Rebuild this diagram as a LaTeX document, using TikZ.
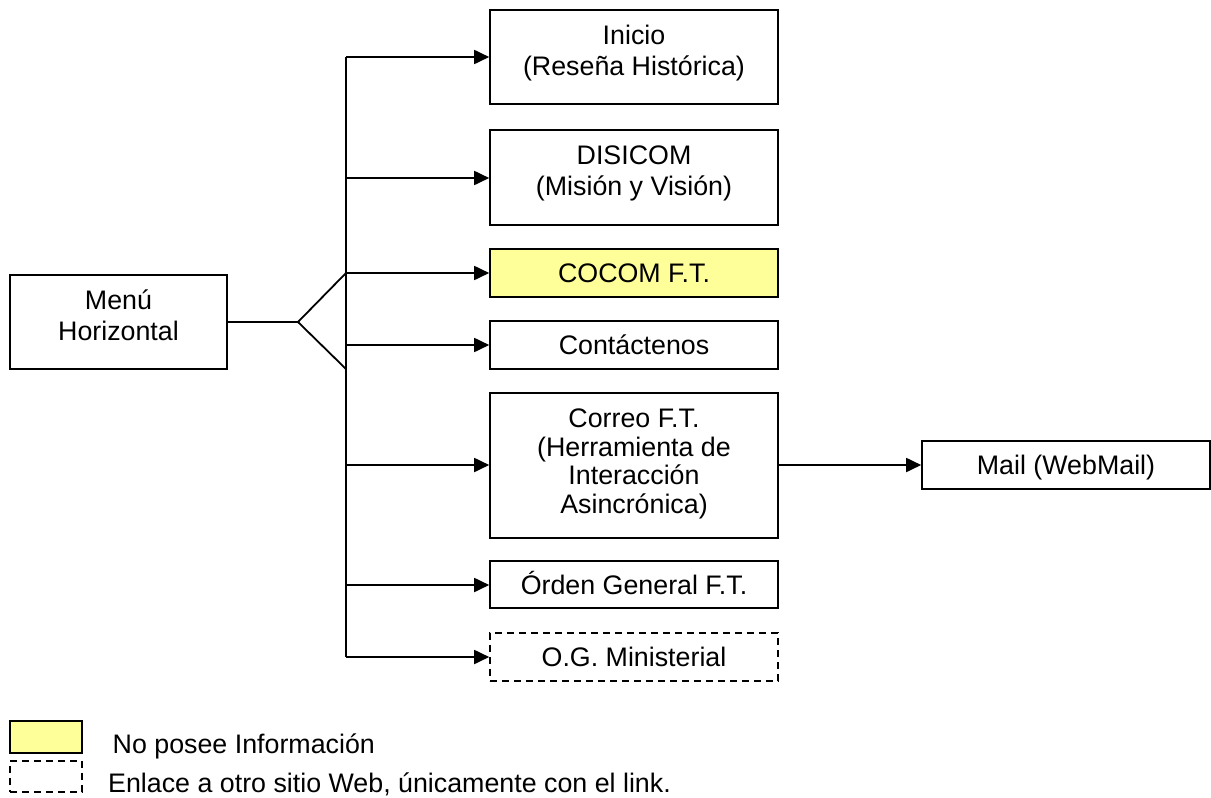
\documentclass[tikz,border=0pt]{standalone}
\usepackage{fontspec}
\setmainfont{Liberation Sans}
\usetikzlibrary{arrows.meta}
\definecolor{noinfo}{RGB}{255,255,153}
\tikzset{
  box/.style={draw, line width=1.6pt, inner sep=0pt, align=center,
    font=\fontsize{26.8}{31}\selectfont, text height=19.3pt, text depth=0pt},
  twoline/.style={text height=50.3pt, text depth=14pt},
  dashbox/.style={dash pattern=on 7pt off 5pt},
  conn/.style={line width=1.8pt},
  arr/.style={conn, -{Triangle[length=15pt,width=14pt]}},
  lbl/.style={anchor=base west, inner sep=0pt, font=\fontsize{26.8}{31}\selectfont}
}
\begin{document}
\begin{tikzpicture}[x=1pt,y=-1pt]
\useasboundingbox (0,0) rectangle (1211,798);
% boxes
\node[box, twoline, minimum width=217pt, minimum height=94pt] (menu) at (118.5,322) {Menú\\Horizontal};
\node[box, twoline, minimum width=288pt, minimum height=94pt] (inicio) at (634,57) {Inicio\\(Reseña Histórica)};
\node[box, twoline, minimum width=288pt, minimum height=95pt] (disicom) at (634,177.5) {DISICOM\\(Misión y Visión)};
\node[box, minimum width=288pt, minimum height=48pt, fill=noinfo] (cocom) at (634,273) {COCOM F.T.};
\node[box, minimum width=288pt, minimum height=48pt] (contact) at (634,345) {Contáctenos};
\node[box, minimum width=288pt, minimum height=145pt, font=\fontsize{26.8}{28.5}\selectfont, text height=104.8pt, text depth=9pt] (correo) at (634,465.5) {Correo F.T.\\(Herramienta de\\Interacción\\Asincrónica)};
\node[box, minimum width=288pt, minimum height=48pt] (mail) at (1066,465) {Mail (WebMail)};
\node[box, minimum width=288pt, minimum height=47pt] (orden) at (634,584.5) {Órden General F.T.};
\node[box, dashbox, minimum width=288pt, minimum height=48pt] (og) at (634,657) {O.G. Ministerial};
% fork
\coordinate (fk) at (298,322);
\coordinate (ft) at (346,273);
\coordinate (fb) at (346,369);
\coordinate (vtop) at (346,57);
\coordinate (vbot) at (346,657);
\coordinate (b2) at (346,178);
\coordinate (b4) at (346,345);
\coordinate (b5) at (346,465);
\coordinate (b6) at (346,585);
\draw[conn] (menu.east |- fk) -- (fk);
\draw[conn] (ft) -- (fk) -- (fb);
\draw[conn] (vtop) -- (vbot);
\draw[arr] (vtop) -- (inicio.west);
\draw[arr] (b2) -- (disicom.west |- b2);
\draw[arr] (ft) -- (cocom.west);
\draw[arr] (b4) -- (contact.west);
\draw[arr] (b5) -- (correo.west |- b5);
\draw[arr] (b6) -- (orden.west |- b6);
\draw[arr] (vbot) -- (og.west);
\draw[arr] (correo.east |- mail.west) -- (mail.west);
% legend
\node[draw, line width=1.6pt, fill=noinfo, minimum width=72pt, minimum height=32pt, inner sep=0pt] (leg1) at (46,737) {};
\node[draw, line width=1.6pt, dashbox, minimum width=72pt, minimum height=31pt, inner sep=0pt] (leg2) at (46,776.5) {};
\node[lbl] (t1) at (112.5,753.5) {No posee Información};
\node[lbl] (t2) at (108,792.5) {Enlace a otro sitio Web, únicamente con el link.};
\end{tikzpicture}
\end{document}
